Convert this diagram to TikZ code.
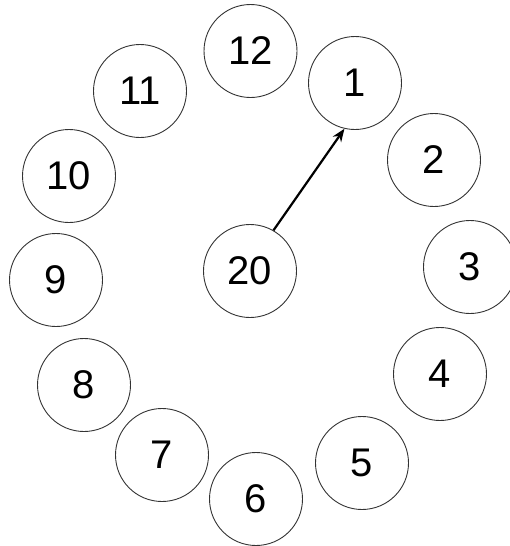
\documentclass[tikz,border=0pt]{standalone}
\usepackage{fontspec}
\setmainfont{Liberation Sans}
\usetikzlibrary{arrows.meta}
\begin{document}
\begin{tikzpicture}[x=1pt,y=-1pt,
  dial/.style={draw=black!80,line width=0.9pt,circle,minimum size=93pt,inner sep=0pt,font=\fontsize{40}{48}\selectfont}]
\useasboundingbox (0,0) rectangle (510,546);

\node[dial] (n12) at (250.5,51) {12};
\node[dial] (n1) at (355,83) {1};
\node[dial] (n2) at (434,160) {2};
\node[dial] (n3) at (470,267) {3};
\node[dial] (n4) at (440,374) {4};
\node[dial] (n5) at (362,463) {5};
\node[dial] (n6) at (256,499) {6};
\node[dial] (n7) at (162,455) {7};
\node[dial] (n8) at (84,385) {8};
\node[dial] (n9) at (56,280) {9};
\node[dial] (n10) at (69,176) {10};
\node[dial] (n11) at (140,91) {11};

\node[dial] (n20) at (250,271) {20};

\draw[line width=2.2pt,-{Stealth[length=13pt,width=10pt]}] (n20.60) -- (n1.-103);
\end{tikzpicture}
\end{document}
